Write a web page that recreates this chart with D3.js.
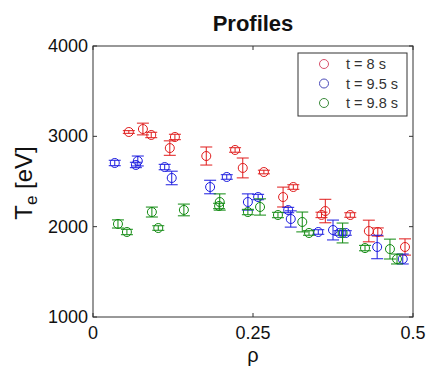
<!DOCTYPE html>
<html><head><meta charset="utf-8">
<script src="https://cdn.jsdelivr.net/npm/d3@7"></script>
<style>body{margin:0;background:#fff}svg{display:block}text{font-family:"Liberation Sans",Arial,sans-serif}</style>
</head><body>
<script>
// Data: [rho, Te, error]
const series8 = [
 [0.056,3048,15],[0.078,3081,65],[0.091,3015,30],[0.128,2993,30],[0.120,2870,80],
 [0.177,2782,100],[0.222,2849,25],[0.234,2650,110],[0.267,2605,20],[0.297,2328,110],
 [0.313,2439,25],[0.357,2130,30],[0.363,2173,130],[0.402,2129,25],[0.431,1952,120],
 [0.445,1941,45],[0.4875,1775,90]
];
const series95 = [
 [0.034,2705,30],[0.067,2683,30],[0.070,2727,55],[0.112,2660,30],[0.123,2539,75],
 [0.183,2439,75],[0.209,2550,25],[0.242,2273,90],[0.258,2328,30],[0.305,2184,30],
 [0.309,2085,90],[0.352,1941,25],[0.375,1963,110],[0.385,1930,25],[0.395,1930,25],
 [0.444,1775,130],[0.484,1642,55]
];
const series98 = [
 [0.039,2030,45],[0.053,1941,30],[0.092,2162,55],[0.102,1985,25],[0.142,2185,65],
 [0.198,2273,90],[0.197,2229,30],[0.261,2218,90],[0.242,2162,30],[0.289,2129,30],
 [0.327,2052,110],[0.3375,1930,25],[0.390,1930,110],[0.425,1763,30],[0.464,1752,110],
 [0.475,1642,55]
];
const seriesNames = ["t = 8 s","t = 9.5 s","t = 9.8 s"];
const seriesColors = ["#e01c1c","#1c1ce0","#108a10"];
const legendColors = ["#d8506a","#4a4ab8","#3a8a3a"];
const xTicks = [0,0.25,0.5];
const yTicks = [1000,2000,3000,4000];

const W=426,H=367;
const m={l:93,r:13,t:46,b:50};
const svg=d3.select("body").append("svg").attr("width",W).attr("height",H);
const x=d3.scaleLinear().domain([0,0.5]).range([m.l,W-m.r]);
const y=d3.scaleLinear().domain([1000,4000]).range([H-m.b,m.t]);

// box
svg.append("rect").attr("x",x(0)).attr("y",y(4000)).attr("width",x(0.5)-x(0)).attr("height",y(1000)-y(4000))
 .attr("fill","#fff").attr("stroke","#333").attr("stroke-width",1);

// ticks (inside, all four sides)
const tl=4;
xTicks.forEach(t=>{
  svg.append("line").attr("x1",x(t)).attr("x2",x(t)).attr("y1",y(1000)).attr("y2",y(1000)-tl).attr("stroke","#333");
  svg.append("line").attr("x1",x(t)).attr("x2",x(t)).attr("y1",y(4000)).attr("y2",y(4000)+tl).attr("stroke","#333");
  svg.append("text").attr("x",x(t)).attr("y",y(1000)+22).attr("text-anchor","middle").attr("font-size",18).attr("fill","#111").text(d3.format("")(t));
});
yTicks.forEach(t=>{
  svg.append("line").attr("x1",x(0)).attr("x2",x(0)+tl).attr("y1",y(t)).attr("y2",y(t)).attr("stroke","#333");
  svg.append("line").attr("x1",x(0.5)).attr("x2",x(0.5)-tl).attr("y1",y(t)).attr("y2",y(t)).attr("stroke","#333");
  svg.append("text").attr("x",x(0)-5).attr("y",y(t)+6).attr("text-anchor","end").attr("font-size",18).attr("fill","#111").text(t);
});

// data
const all=[series8,series95,series98];
const capW=6, r=4.5;
all.forEach((s,i)=>{
  const g=svg.append("g").attr("stroke",seriesColors[i]).attr("fill","none").attr("stroke-width",1);
  s.forEach(d=>{
    const cx=x(d[0]), cy=y(d[1]), y1=y(d[1]+d[2]), y2=y(d[1]-d[2]);
    g.append("line").attr("x1",cx).attr("x2",cx).attr("y1",y1).attr("y2",y2);
    g.append("line").attr("x1",cx-capW).attr("x2",cx+capW).attr("y1",y1).attr("y2",y1);
    g.append("line").attr("x1",cx-capW).attr("x2",cx+capW).attr("y1",y2).attr("y2",y2);
    g.append("circle").attr("cx",cx).attr("cy",cy).attr("r",r);
  });
});

// title & labels
svg.append("text").attr("x",(x(0)+x(0.5))/2).attr("y",31).attr("text-anchor","middle").attr("font-size",22).attr("font-weight","bold").attr("fill","#111").text("Profiles");
svg.append("text").attr("x",x(0.25)).attr("y",362).attr("text-anchor","middle").attr("font-size",20).attr("fill","#111").text("ρ");
const yl=svg.append("text").attr("transform",`translate(32,183) rotate(-90)`).attr("text-anchor","middle").attr("font-size",24).attr("fill","#111");
yl.append("tspan").text("T");
yl.append("tspan").attr("font-size",17).attr("dy",5).text("e");
yl.append("tspan").attr("dy",-5).text(" [eV]");

// legend
const lg=svg.append("g");
lg.append("rect").attr("x",298).attr("y",53).attr("width",109).attr("height",63).attr("fill","#fff").attr("stroke","#333");
seriesNames.forEach((n,i)=>{
  const ly=64+i*19.5;
  lg.append("circle").attr("cx",324).attr("cy",ly).attr("r",4.5).attr("fill","none").attr("stroke",legendColors[i]);
  lg.append("text").attr("x",346).attr("y",ly+5).attr("font-size",14.5).attr("fill","#333").text(n);
});
</script>
</body></html>
